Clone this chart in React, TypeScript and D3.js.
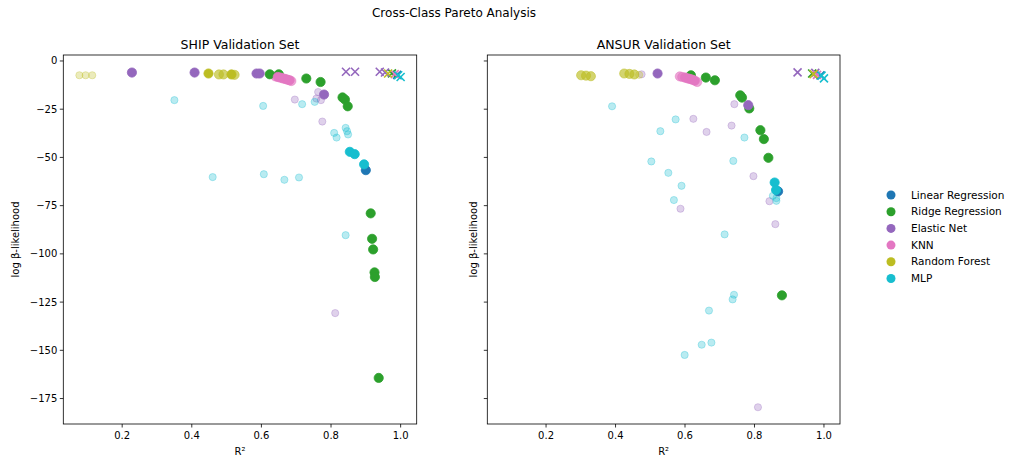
import * as d3 from "d3";
import React from "react";

type Kind = "s" | "m" | "f" | "x";
type Pt = [number, number, Kind];

const models = ["Linear Regression", "Ridge Regression", "Elastic Net", "KNN", "Random Forest", "MLP"];
const colors = ["#1f77b4", "#2ca02c", "#9467bd", "#e377c2", "#bcbd22", "#17becf"];

// SHIP validation set: [R², log β-likelihood, kind]
const shipLinear: Pt[] = [[0.900, -56.6, "s"], [0.99, -7.2, "x"]];
const shipRidge: Pt[] = [
  [0.624, -6.9, "s"], [0.650, -6.9, "s"], [0.729, -9.1, "s"], [0.770, -10.9, "s"], [0.833, -18.9, "s"],
  [0.840, -20.0, "s"], [0.848, -23.5, "s"], [0.914, -79.0, "s"], [0.918, -92.2, "s"], [0.921, -97.7, "s"],
  [0.925, -109.6, "s"], [0.926, -112.0, "s"], [0.937, -164.3, "s"], [0.975, -6.4, "x"],
];
const shipElastic: Pt[] = [
  [0.763, -16.1, "f"], [0.758, -19.5, "f"], [0.771, -20.3, "f"], [0.696, -20.0, "f"], [0.775, -31.4, "f"],
  [0.812, -130.7, "f"],
  [0.228, -6.0, "s"], [0.408, -6.0, "s"], [0.586, -6.5, "s"], [0.595, -6.5, "s"], [0.780, -17.4, "s"],
  [0.843, -5.6, "x"], [0.869, -5.6, "x"], [0.940, -5.6, "x"], [0.955, -6.0, "x"],
];
const shipKnn: Pt[] = [
  [0.640, -8.0, "m"], [0.647, -8.3, "s"], [0.654, -8.6, "s"], [0.661, -9.0, "s"], [0.668, -9.3, "s"],
  [0.675, -9.7, "s"], [0.681, -10.0, "s"], [0.686, -10.4, "m"], [0.983, -6.8, "x"],
];
const shipForest: Pt[] = [
  [0.077, -7.4, "f"], [0.095, -7.4, "f"], [0.114, -7.4, "f"],
  [0.478, -7.0, "m"], [0.491, -7.0, "m"], [0.523, -7.2, "m"],
  [0.448, -6.5, "s"], [0.514, -7.0, "s"], [0.964, -6.5, "x"],
];
const shipMlp: Pt[] = [
  [0.350, -20.3, "f"], [0.605, -23.3, "f"], [0.717, -22.4, "f"], [0.753, -21.2, "f"], [0.809, -37.3, "f"],
  [0.816, -39.7, "f"], [0.842, -34.7, "f"], [0.846, -36.4, "f"], [0.849, -38.1, "f"], [0.460, -60.2, "f"],
  [0.607, -58.7, "f"], [0.666, -61.6, "f"], [0.708, -60.4, "f"], [0.842, -90.3, "f"],
  [0.854, -47.1, "s"], [0.868, -48.3, "s"], [0.895, -53.6, "s"],
  [0.993, -7.4, "x"], [1.0, -8.3, "x"],
];

// ANSUR validation set
const ansurLinear: Pt[] = [[0.868, -67.6, "s"], [0.99, -7.5, "x"]];
const ansurRidge: Pt[] = [
  [0.617, -7.4, "s"], [0.660, -8.6, "s"], [0.686, -10.0, "s"], [0.759, -17.8, "s"], [0.764, -19.0, "s"],
  [0.785, -24.6, "s"], [0.817, -35.9, "s"], [0.827, -40.5, "s"], [0.840, -50.2, "s"], [0.879, -121.5, "s"],
  [0.966, -6.5, "x"],
];
const ansurElastic: Pt[] = [
  [0.475, -6.9, "f"], [0.742, -22.4, "f"], [0.624, -30.0, "f"], [0.662, -36.8, "f"], [0.734, -33.5, "f"],
  [0.797, -59.7, "f"], [0.587, -76.6, "f"], [0.843, -72.7, "f"], [0.860, -84.6, "f"], [0.810, -179.5, "f"],
  [0.521, -6.5, "s"], [0.782, -22.9, "s"],
  [0.924, -5.9, "x"], [0.975, -6.2, "x"],
];
const ansurKnn: Pt[] = [
  [0.585, -8.0, "m"], [0.592, -8.3, "m"], [0.600, -8.6, "s"], [0.607, -9.0, "s"], [0.614, -9.3, "s"],
  [0.621, -9.7, "s"], [0.628, -10.2, "s"], [0.635, -10.9, "m"], [0.980, -7.2, "x"],
];
const ansurForest: Pt[] = [
  [0.301, -7.4, "m"], [0.315, -7.6, "m"], [0.329, -7.9, "m"],
  [0.425, -6.5, "m"], [0.440, -6.7, "m"], [0.454, -7.0, "m"], [0.468, -7.2, "f"],
  [0.970, -6.8, "x"],
];
const ansurMlp: Pt[] = [
  [0.390, -23.5, "f"], [0.573, -30.3, "f"], [0.529, -36.4, "f"], [0.771, -39.7, "f"], [0.503, -52.1, "f"],
  [0.739, -51.8, "f"], [0.552, -58.0, "f"], [0.590, -64.7, "f"], [0.568, -72.1, "f"], [0.853, -69.9, "f"],
  [0.863, -71.1, "f"], [0.863, -72.5, "f"], [0.714, -89.9, "f"], [0.741, -121.2, "f"], [0.737, -123.6, "f"],
  [0.669, -129.4, "f"], [0.648, -147.1, "f"], [0.676, -146.0, "f"], [0.599, -152.4, "f"],
  [0.858, -63.0, "s"], [0.862, -66.9, "s"],
  [0.993, -7.6, "x"], [1.0, -9.0, "x"],
];

const shipData = [shipLinear, shipRidge, shipElastic, shipKnn, shipForest, shipMlp];
const ansurData = [ansurLinear, ansurRidge, ansurElastic, ansurKnn, ansurForest, ansurMlp];

const xTicks = [0.2, 0.4, 0.6, 0.8, 1.0];
const yTicks = [0, -25, -50, -75, -100, -125, -150, -175];

const W = 1011, H = 459;
const top = 55, bottom = 424;
const font = "DejaVu Sans, sans-serif";

const all = [...shipData, ...ansurData].flat();
const pad = (e: [number, number]): [number, number] => {
  const m = (e[1] - e[0]) * 0.05;
  return [e[0] - m, e[1] + m];
};
const xDom = pad(d3.extent(all, (d) => d[0]) as [number, number]);
const yDom = pad(d3.extent(all, (d) => d[1]) as [number, number]);
const y = d3.scaleLinear(yDom, [bottom, top]);

const alphaOf: Record<string, number> = { f: 0.3, m: 0.65, s: 1 };

const Panel = ({ left, right, title, data, yLabels, ylabX }: {
  left: number, right: number, title: string, data: Pt[][], yLabels: boolean, ylabX: number
}) => {
  const x = d3.scaleLinear(xDom, [left, right]);
  const kinds: Kind[] = ["f", "m", "s", "x"];
  return (
    <g>
      {kinds.map((k) =>
        data.map((series, mi) =>
          series.filter((d) => d[2] === k).map((d, i) => {
            const cx = x(d[0]), cy = y(d[1]), c = colors[mi];
            if (k === "x") {
              const s = 4;
              return (
                <path key={`${k}${mi}-${i}`} d={`M${cx - s},${cy - s}L${cx + s},${cy + s}M${cx - s},${cy + s}L${cx + s},${cy - s}`}
                  stroke={c} strokeWidth={1.6} fill="none" />
              );
            }
            const a = alphaOf[k];
            const r = k === "f" ? 3.6 : 4.6;
            return (
              <circle key={`${k}${mi}-${i}`} cx={cx} cy={cy} r={r} fill={c} fillOpacity={a} stroke={c} strokeOpacity={a} strokeWidth={k === "f" ? 1 : 0.8} />
            );
          })
        )
      )}
      <rect x={left} y={top} width={right - left} height={bottom - top} fill="none" stroke="#000" strokeWidth={0.8} />
      {xTicks.map((t) => (
        <g key={t} transform={`translate(${x(t)},${bottom})`}>
          <line y2={3.5} stroke="#000" strokeWidth={0.8} />
          <text y={15} textAnchor="middle" fontSize={10} fontFamily={font}>{t.toFixed(1)}</text>
        </g>
      ))}
      {yTicks.map((t) => (
        <g key={t} transform={`translate(${left},${y(t)})`}>
          <line x2={-3.5} stroke="#000" strokeWidth={0.8} />
          {yLabels && (
            <text x={-6} dy="0.35em" textAnchor="end" fontSize={10} fontFamily={font}>{t < 0 ? `\u2212${-t}` : t}</text>
          )}
        </g>
      ))}
      <text x={(left + right) / 2} y={49} textAnchor="middle" fontSize={12.5} fontFamily={font}>{title}</text>
      <text x={(left + right) / 2} y={455} textAnchor="middle" fontSize={10} fontFamily={font}>R²</text>
      <text transform={`translate(${ylabX},${(top + bottom) / 2}) rotate(-90)`} textAnchor="middle" fontSize={10} fontFamily={font}>log β-likelihood</text>
    </g>
  );
};

export default function App() {
  return (
    <svg width={W} height={H} style={{ position: "absolute", left: 0, top: 0, background: "#fff" }}>
      <text x={454} y={17} textAnchor="middle" fontSize={12} fontFamily={font}>Cross-Class Pareto Analysis</text>
      <Panel left={63.3} right={416.7} title="SHIP Validation Set" data={shipData} yLabels={true} ylabX={19} />
      <Panel left={487.3} right={840} title="ANSUR Validation Set" data={ansurData} yLabels={false} ylabX={477} />
      {models.map((m, i) => (
        <g key={m} transform={`translate(891,${195 + i * 16.7})`}>
          <circle r={4.5} fill={colors[i]} />
          <text x={20} dy="0.35em" fontSize={10.5} fontFamily={font}>{m}</text>
        </g>
      ))}
    </svg>
  );
}
